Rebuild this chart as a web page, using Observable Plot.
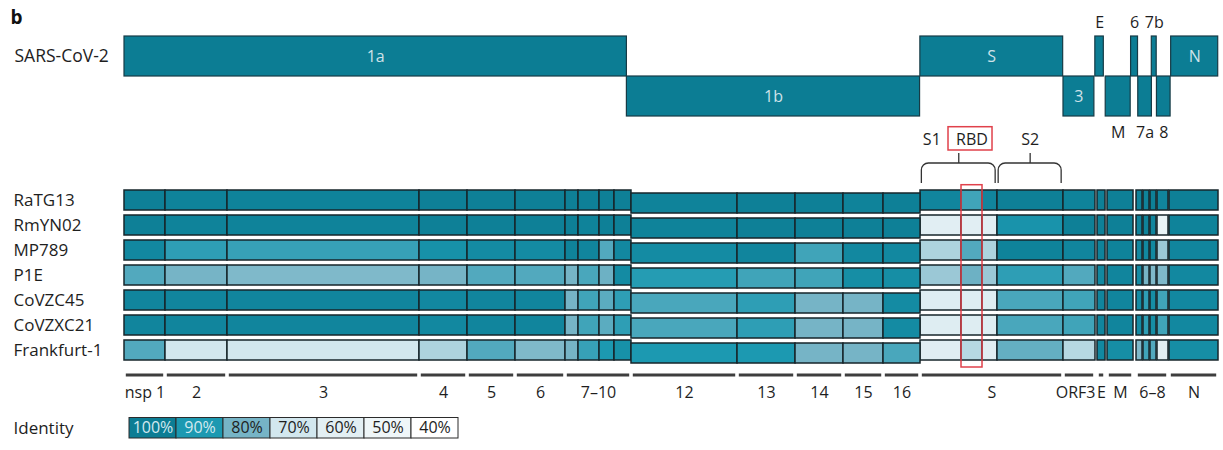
<!DOCTYPE html>
<html>
<head>
<meta charset="utf-8">
<script src="https://cdn.jsdelivr.net/npm/d3@7"></script>
<script src="https://cdn.jsdelivr.net/npm/@observablehq/plot@0.6"></script>
<style>
  body { margin: 0; background: #fff; }
  #figure { width: 1223px; height: 450px; font-family: "Open Sans", sans-serif; }
  #figure svg { display: block; overflow: hidden; }
</style>
</head>
<body>
<div id="figure"></div>
<script>
// ---- SARS-CoV-2 genome organisation (nucleotide coordinates) ----
const orfNames = ["1a", "1b", "S", "3", "E", "M", "6", "7a", "7b", "8", "N"];
const orfStart = [266, 13710, 21563, 25393, 26245, 26523, 27202, 27394, 27756, 27894, 28274];
const orfEnd   = [13710, 21555, 25384, 26220, 26472, 27191, 27387, 27759, 27887, 28259, 29533];
const orfLane  = ["upper", "lower", "upper", "lower", "upper", "lower", "upper", "lower", "upper", "lower", "upper"];
const orfLabel = ["inside", "inside", "inside", "inside", "above", "below", "above", "below", "above", "below", "inside"];

// spike subunits and receptor-binding domain
const spikeParts = ["S1", "S2"];
const spikeStart = [21563, 23618];
const spikeEnd   = [23618, 25384];
const rbdStart = 22664;
const rbdEnd   = 23226;

// ---- genome segments compared against each related virus ----
const segNames = ["nsp1", "nsp2", "nsp3", "nsp4", "nsp5", "nsp6", "nsp7", "nsp8", "nsp9", "nsp10",
                  "nsp12", "nsp13", "nsp14", "nsp15", "nsp16",
                  "S1 N-terminal", "RBD", "S1 C-terminal", "S2",
                  "ORF3", "E", "M", "ORF6", "ORF7a", "ORF7b", "ORF8", "N"];
const segStart = [266, 1363, 3022, 8160, 9445, 10729, 12067, 12415, 12977, 13378,
                  13833, 16670, 18222, 19506, 20577,
                  21567, 22664, 23226, 23627,
                  25393, 26303, 26571, 27347, 27534, 27721, 27909, 28230];
const segEnd   = [1363, 3022, 8160, 9445, 10729, 12067, 12415, 12977, 13378, 13833,
                  16670, 18222, 19506, 20577, 21567,
                  22664, 23226, 23627, 25393,
                  26249, 26518, 27267, 27508, 27695, 27882, 28203, 29541];
const orf1bSegments = ["nsp12", "nsp13", "nsp14", "nsp15", "nsp16"];

const virusNames = ["RaTG13", "RmYN02", "MP789", "P1E", "CoVZC45", "CoVZXC21", "Frankfurt-1"];

// percent identity to SARS-CoV-2, one value per segment
const ratg13     = [99, 98, 98, 99, 99, 99, 99, 99, 99, 99, 98, 99, 99, 98, 99, 97, 86, 97, 99, 98, 99, 99, 98, 98, 99, 97, 99];
const rmyn02     = [99, 98, 98, 99, 99, 99, 99, 98, 99, 99, 98, 99, 99, 99, 99, 61, 61, 61, 92, 99, 99, 99, 98, 98, 97, 55, 98];
const mp789      = [96, 88, 87, 93, 95, 95, 98, 97, 84, 96, 95, 97, 86, 96, 96, 74, 84, 74, 98, 97, 98, 98, 96, 96, 96, 76, 97];
const p1e        = [84, 80, 79, 80, 84, 84, 80, 85, 81, 95, 89, 86, 86, 94, 94, 76, 81, 76, 88, 84, 96, 97, 95, 80, 79, 79, 96];
const covzc45    = [97, 97, 97, 96, 97, 97, 80, 86, 83, 88, 85, 88, 80, 80, 95, 63, 63, 63, 85, 86, 97, 97, 95, 88, 94, 86, 96];
const covzxc21   = [97, 97, 97, 96, 97, 97, 80, 86, 83, 88, 85, 88, 80, 80, 95, 63, 63, 63, 85, 86, 97, 97, 95, 88, 94, 86, 96];
const frankfurt1 = [84, 70, 70, 74, 84, 79, 80, 87, 90, 93, 90, 90, 80, 80, 85, 62, 73, 62, 82, 73, 96, 94, 79, 86, 84, 60, 94];
const identityByVirus = [ratg13, rmyn02, mp789, p1e, covzc45, covzxc21, frankfurt1];

// gene annotation beneath the comparison
const geneLabels = ["nsp 1", "2", "3", "4", "5", "6", "7–10", "12", "13", "14", "15", "16", "S", "ORF3", "E", "M", "6–8", "N"];
const geneStart  = [266, 1363, 3022, 8160, 9445, 10729, 12067, 13833, 16670, 18222, 19506, 20577, 21567, 25393, 26303, 26571, 27347, 28230];
const geneEnd    = [1363, 3022, 8160, 9445, 10729, 12067, 13833, 16670, 18222, 19506, 20577, 21567, 25393, 26249, 26518, 27267, 28203, 29541];

// identity colour key
const identityLevels = [100, 90, 80, 70, 60, 50, 40];
const identityColors = ["#0c7d94", "#1c99b1", "#76b4c6", "#d2e7ee", "#e3eff3", "#eff6f8", "#ffffff"];

// ---- tables ----
const orfs = orfNames.map((name, i) => ({name, start: orfStart[i], end: orfEnd[i], lane: orfLane[i], label: orfLabel[i]}));
const spike = spikeParts.map((name, i) => ({name, start: spikeStart[i], end: spikeEnd[i]}));
const rbd = [{name: "RBD", start: rbdStart, end: rbdEnd}];
const cells = virusNames.flatMap((row, i) => segNames.map((segment, j) => ({
  row, segment, start: segStart[j], end: segEnd[j], pct: identityByVirus[i][j],
  orf1b: orf1bSegments.includes(segment)
})));
const genes = geneLabels.map((label, i) => ({label, start: geneStart[i], end: geneEnd[i]}));
const mid = d => (d.start + d.end) / 2;

const xScale = {domain: [266, 29541], axis: null};
const colorScale = {
  type: "linear",
  domain: identityLevels.slice().reverse(),
  range: identityColors.slice().reverse(),
  interpolate: "rgb"
};
const baseStyle = {fontFamily: "'Open Sans', sans-serif", fontSize: "16px", color: "#1e1e1e", background: "transparent"};
const ink = "#1e1e1e";
const red = "#e0414b";

const figure = document.getElementById("figure");

// ---- genome map ----
figure.append(Plot.plot({
  width: 1223, height: 183,
  marginLeft: 124, marginRight: 5, marginTop: 35, marginBottom: 67,
  style: baseStyle,
  x: xScale,
  y: {domain: ["upper", "lower"], padding: 0, axis: null},
  marks: [
    // panel letter
    Plot.text(["b"], {frameAnchor: "top-left", textAnchor: "start", dx: -114, dy: -25, fontWeight: "bold", fontSize: 19, fill: "#111"}),
    Plot.barX(orfs, {x1: "start", x2: "end", y: "lane", fill: "#0c7d94", stroke: "#173b46", strokeWidth: 1.2}),
    Plot.text(orfs.filter(d => d.label === "inside"), {x: mid, y: "lane", text: "name", fill: "#cfe2e9", fontSize: 16}),
    Plot.text(orfs.filter(d => d.label === "above"), {x: mid, y: "lane", text: "name", dy: -34, fill: ink, fontSize: 16}),
    Plot.text(orfs.filter(d => d.label === "below"), {x: mid, y: "lane", text: "name", dy: 36, fill: ink, fontSize: 16}),
    Plot.text(["SARS-CoV-2"], {y: () => "upper", frameAnchor: "left", textAnchor: "start", dx: -110, fill: ink, fontSize: 17.5}),
    // spike subunit brackets
    Plot.rect(spike, {x1: "start", x2: "end", insetLeft: 1.5, insetRight: 1.5, insetTop: 128, insetBottom: -80, rx: 7,
      fill: "none", stroke: "#333", strokeWidth: 1.3}),
    Plot.ruleX(spike, {x: mid, insetTop: 118, insetBottom: -47, stroke: "#333", strokeWidth: 1.3}),
    Plot.text(spike.filter(d => d.name === "S1"), {x: "start", y: () => "lower", text: "name", textAnchor: "start", dx: 2.5, dy: 43, fill: ink, fontSize: 16}),
    Plot.text(spike.filter(d => d.name === "S2"), {x: mid, y: () => "lower", text: "name", dy: 43, fill: ink, fontSize: 16}),
    Plot.rect(rbd, {x1: "start", x2: "end", insetLeft: -13, insetRight: -10, insetTop: 91.7, insetBottom: -34,
      fill: "none", stroke: red, strokeWidth: 1.5}),
    Plot.text(rbd, {x: mid, y: () => "lower", text: "name", dy: 43, fill: ink, fontSize: 16})
  ]
}));

// ---- identity comparison rows ----
const tracks = [...virusNames, "genes"];
figure.append(Plot.plot({
  width: 1223, height: 227,
  marginLeft: 124, marginRight: 5, marginTop: 6.3, marginBottom: 23.7,
  style: baseStyle,
  x: xScale,
  y: {domain: tracks, paddingInner: 0.209, paddingOuter: 0, axis: null},
  color: colorScale,
  marks: [
    Plot.barX(cells.filter(d => !d.orf1b), {x1: "start", x2: "end", y: "row", fill: "pct", stroke: "#17262b", strokeWidth: 1.5}),
    Plot.barX(cells.filter(d => d.orf1b), {x1: "start", x2: "end", y: "row", fill: "pct", stroke: "#17262b", strokeWidth: 1.5, dy: 3}),
    Plot.rect(rbd, {x1: "start", x2: "end", insetTop: -4.6, insetBottom: 19.3, fill: "none", stroke: red, strokeWidth: 1.5}),
    Plot.text(virusNames, {y: d => d, frameAnchor: "left", textAnchor: "start", dx: -111, fill: ink, fontSize: 17}),
    Plot.barX(genes, {x1: "start", x2: "end", y: () => "genes", insetTop: 8.5, insetBottom: 8.5, insetLeft: 1.8, insetRight: 1.8, fill: "#3e3e3e"}),
    Plot.text(genes.filter(d => d.label !== "ORF3"), {x: mid, y: () => "genes", text: "label", dy: 17, fill: ink, fontSize: 16}),
    Plot.text(genes.filter(d => d.label === "ORF3"), {x: "end", y: () => "genes", text: "label", textAnchor: "end", dy: 17, fill: ink, fontSize: 16})
  ]
}));

// ---- identity key ----
const pctLabel = d => d + "%";
figure.append(Plot.plot({
  width: 1223, height: 40,
  marginLeft: 126, marginRight: 763, marginTop: 7.5, marginBottom: 12,
  style: baseStyle,
  x: {domain: identityLevels.map(pctLabel), padding: 0, axis: null},
  color: colorScale,
  marks: [
    Plot.cell(identityLevels, {x: pctLabel, fill: d => d, stroke: "#2b2b2b", strokeWidth: 1}),
    Plot.text(identityLevels.filter(d => d >= 90), {x: pctLabel, text: pctLabel, fill: "#d3e9f0", fontSize: 16}),
    Plot.text(identityLevels.filter(d => d < 90), {x: pctLabel, text: pctLabel, fill: ink, fontSize: 16}),
    Plot.text(["Identity"], {frameAnchor: "left", textAnchor: "start", dx: -113, fill: ink, fontSize: 17})
  ]
}));
</script>
</body>
</html>
